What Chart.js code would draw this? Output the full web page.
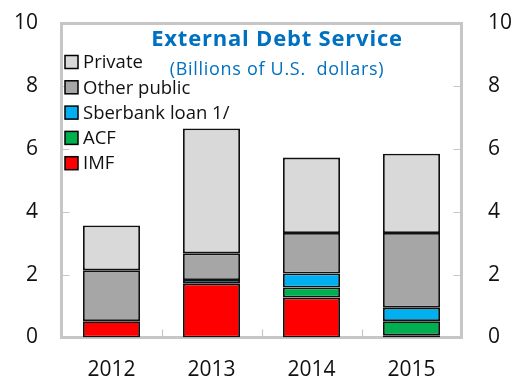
<!DOCTYPE html>
<html>
<head>
<meta charset="utf-8">
<script src="https://cdn.jsdelivr.net/npm/chart.js@4"></script>
<style>
  html, body { margin: 0; padding: 0; background: #fff; }
  #wrap { width: 516px; height: 381px; }
</style>
</head>
<body>
<div id="wrap"><canvas id="chartDebt"></canvas></div>
<script>
const years = ['2012', '2013', '2014', '2015'];
const imf = [0.52, 1.71, 1.27, 0.07];
const acf = [null, null, 0.32, 0.45];
const sberbank = [null, 0.12, 0.45, 0.43];
const otherPublic = [1.62, 0.85, 1.29, 2.38];
const privateDebt = [1.43, 3.98, 2.40, 2.52];
const yTicks = [0, 2, 4, 6, 8, 10];

const FONT = '"Open Sans", sans-serif';
const FRAME = '#c6c6c6';

// frame around the plot plus short inward tick marks, under the bars
const framePlugin = {
    id: 'frame',
    beforeDatasetsDraw(chart) {
        const ctx = chart.ctx;
        const a = chart.chartArea;
        const y = chart.scales.y;
        const x = chart.scales.x;
        ctx.save();
        ctx.strokeStyle = FRAME;
        ctx.lineWidth = 1.2;
        ctx.beginPath();
        yTicks.forEach(function(v) {
            const py = Math.round(y.getPixelForValue(v)) + 0.5;
            ctx.moveTo(a.left, py); ctx.lineTo(a.left + 8, py);
            ctx.moveTo(a.right, py); ctx.lineTo(a.right - 8, py);
        });
        for (let i = 1; i < years.length; i++) {
            const px = Math.round((x.getPixelForValue(i - 1) + x.getPixelForValue(i)) / 2) + 0.5;
            ctx.moveTo(px, a.bottom); ctx.lineTo(px, a.bottom - 8);
        }
        ctx.stroke();
        ctx.lineWidth = 3;
        ctx.strokeRect(a.left, a.top, a.right - a.left, a.bottom - a.top);
        ctx.restore();
    }
};

// title, subtitle and the legend sit inside the plot area
const overlayPlugin = {
    id: 'overlay',
    afterDraw(chart) {
        const ctx = chart.ctx;
        ctx.save();
        ctx.fillStyle = '#0070C0';
        ctx.textAlign = 'center';
        ctx.textBaseline = 'middle';
        ctx.font = 'bold 22px ' + FONT;
        ctx.letterSpacing = '0.8px';
        ctx.fillText('External Debt Service', 277, 40);
        ctx.font = '18px ' + FONT;
        ctx.letterSpacing = '0.7px';
        ctx.fillText('(Billions of U.S.  dollars)', 277, 70);
        ctx.letterSpacing = '0px';

        const sets = chart.data.datasets.slice().reverse();
        ctx.textAlign = 'left';
        ctx.font = '18.5px ' + FONT;
        sets.forEach(function(ds, i) {
            const cy = 62 + i * 25.3;
            ctx.fillStyle = ds.backgroundColor;
            ctx.fillRect(65, cy - 6.5, 13, 13);
            ctx.strokeStyle = '#000';
            ctx.lineWidth = 1.5;
            ctx.strokeRect(65, cy - 6.5, 13, 13);
            ctx.fillStyle = '#111';
            ctx.fillText(ds.label, 83, cy + 1);
        });
        ctx.restore();
    }
};

function series(label, data, color) {
    return {
        label: label,
        data: data,
        backgroundColor: color,
        borderColor: '#111',
        borderWidth: 1.8,
        borderSkipped: false,
        categoryPercentage: 1,
        barPercentage: 0.57
    };
}

// fixed axis width, no extra room reserved for the end labels
function fitY(width) {
    return function(s) {
        s.width = width;
        s.paddingTop = 0;
        s.paddingBottom = 0;
    };
}

document.addEventListener('DOMContentLoaded', function() {
    const ctxDebt = document.getElementById('chartDebt').getContext('2d');

    new Chart(ctxDebt, {
        type: 'bar',
        data: {
            labels: years,
            datasets: [
                series('IMF', imf, '#FF0000'),
                series('ACF', acf, '#00B050'),
                series('Sberbank loan 1/', sberbank, '#00B0F0'),
                series('Other public', otherPublic, '#A6A6A6'),
                series('Private', privateDebt, '#D9D9D9')
            ]
        },
        options: {
            responsive: true,
            maintainAspectRatio: false,
            animation: false,
            layout: { padding: { top: 23.5, left: 0, right: 0, bottom: 0 } },
            plugins: {
                legend: { display: false },
                tooltip: { enabled: false }
            },
            scales: {
                x: {
                    stacked: true,
                    grid: { display: false, drawTicks: false },
                    border: { display: false },
                    ticks: { color: '#111', font: { family: FONT, size: 21 }, padding: 20 },
                    afterFit: function(s) {
                        s.height = 43.5;
                        s.paddingLeft = 0;
                        s.paddingRight = 0;
                    }
                },
                y: {
                    stacked: true,
                    position: 'left',
                    min: 0, max: 10,
                    grid: { display: false, drawTicks: false },
                    border: { display: false },
                    ticks: { stepSize: 2, color: '#111', font: { family: FONT, size: 21 }, padding: 23.5 },
                    afterFit: fitY(61.5)
                },
                y2: {
                    position: 'right',
                    min: 0, max: 10,
                    grid: { display: false, drawTicks: false },
                    border: { display: false },
                    ticks: { stepSize: 2, color: '#111', font: { family: FONT, size: 21 }, padding: 26.5 },
                    afterFit: fitY(54.5)
                }
            }
        },
        plugins: [framePlugin, overlayPlugin]
    });
});
</script>
</body>
</html>
